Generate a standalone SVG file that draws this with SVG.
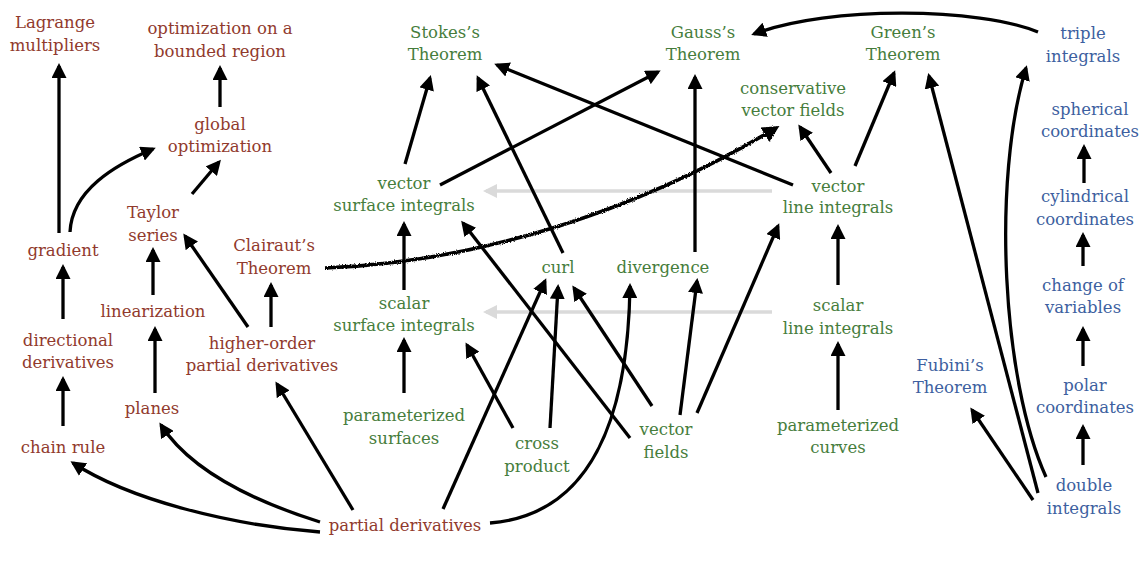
<svg xmlns="http://www.w3.org/2000/svg" width="1140" height="563" viewBox="0 0 1140 563">
<style>
text{font-family:"DejaVu Serif","Liberation Serif",serif;font-size:16.5px;text-anchor:middle}
.r{fill:#913a2d}.g{fill:#467d3c}.b{fill:#3d5fa0}
.e{fill:none;stroke:#000;stroke-width:3.3;marker-end:url(#ah)}
.gr{fill:none;stroke:#dadada;stroke-width:3.5;marker-end:url(#gh)}
.rough{fill:none;stroke:#000;stroke-width:3.6;marker-end:url(#rh)}
</style>
<defs>
<marker id="ah" markerUnits="userSpaceOnUse" markerWidth="15" markerHeight="15" viewBox="0 0 15 15" refX="12" refY="7.5" orient="auto"><path d="M0,0L15,7.5L0,15z" fill="#000"/></marker>
<marker id="gh" markerUnits="userSpaceOnUse" markerWidth="14" markerHeight="14" viewBox="0 0 14 14" refX="11" refY="7" orient="auto"><path d="M0,0L14,7L0,14z" fill="#dadada"/></marker>
<marker id="rh" markerUnits="userSpaceOnUse" markerWidth="17" markerHeight="17" viewBox="0 0 17 17" refX="13" refY="8.5" orient="auto"><path d="M0,0L17,8.5L0,17z" fill="#000"/></marker>
<filter id="rough" x="-5%" y="-20%" width="110%" height="140%"><feTurbulence type="fractalNoise" baseFrequency="0.9" numOctaves="2" result="n"/><feDisplacementMap in="SourceGraphic" in2="n" scale="3" xChannelSelector="R" yChannelSelector="G"/></filter>
</defs>
<rect width="1140" height="563" fill="#fff"/>
<g id="connectors">
<path class="gr" d="M772,312H486"/>
<path class="gr" d="M772,191H486"/>
<path class="e" d="M59,233V66"/>
<path class="e" d="M70,232C72,190 115,165 153,149"/>
<path class="e" d="M220,107V68"/>
<path class="e" d="M192,194L219,162"/>
<path class="e" d="M153,295V250"/>
<path class="e" d="M155,393V329"/>
<path class="e" d="M63,319V267"/>
<path class="e" d="M63,426V379"/>
<path class="e" d="M248,327L185,236"/>
<path class="e" d="M271,327V285"/>
<path class="e" d="M320,532C230,525 130,500 73,463"/>
<path class="e" d="M320,522C250,500 190,470 161,425"/>
<path class="e" d="M353,510L277,384"/>
<path class="e" d="M443,509L545,281"/>
<path class="e" d="M490,523C590,515 628,420 630,286"/>
<path class="e" d="M550,428L558,287"/>
<path class="e" d="M513,428L467,345"/>
<path class="e" d="M652,406L574,288"/>
<path class="e" d="M630,438L463,223"/>
<path class="e" d="M680,415L697,281"/>
<path class="e" d="M697,413L778,226"/>
<path class="e" d="M563,253L478,78"/>
<path class="e" d="M405,164L430,78"/>
<path class="e" d="M440,185L658,72"/>
<path class="e" d="M695,252V77"/>
<path class="e" d="M793,185L497,65"/>
<path class="e" d="M831,173L800,127"/>
<path class="e" d="M855,166L894,73"/>
<path class="e" d="M404,393V340"/>
<path class="e" d="M404,290V224"/>
<path class="e" d="M838,410V344"/>
<path class="e" d="M838,285V227"/>
<path class="e" d="M1033,500L972,410"/>
<path class="e" d="M1038,493L929,76"/>
<path class="e" d="M1046,477C1002,380 992,180 1026,68"/>
<path class="e" d="M1038,32C980,8 830,5 754,34"/>
<path class="e" d="M1083,366V329"/>
<path class="e" d="M1083,465V427"/>
<path class="e" d="M1084,183V147"/>
<path class="e" d="M1083,266V235"/>
<g filter="url(#rough)"><path class="rough" d="M325,268C480,262 640,210 776,128"/></g>
</g>
<g id="lagrange"><text class="r" x="55" y="28">Lagrange</text><text class="r" x="55" y="51">multipliers</text></g>
<g id="optbounded"><text class="r" x="220" y="34">optimization on a</text><text class="r" x="220" y="57">bounded region</text></g>
<g id="globalopt"><text class="r" x="220" y="130">global</text><text class="r" x="220" y="152">optimization</text></g>
<g id="taylor"><text class="r" x="153" y="218">Taylor</text><text class="r" x="153" y="241">series</text></g>
<g id="gradient"><text class="r" x="63" y="256">gradient</text></g>
<g id="clairaut"><text class="r" x="274" y="251">Clairaut’s</text><text class="r" x="274" y="274">Theorem</text></g>
<g id="linearization"><text class="r" x="153" y="317">linearization</text></g>
<g id="directional"><text class="r" x="68" y="346">directional</text><text class="r" x="68" y="368">derivatives</text></g>
<g id="higherorder"><text class="r" x="262" y="349">higher-order</text><text class="r" x="262" y="371">partial derivatives</text></g>
<g id="planes"><text class="r" x="152" y="414">planes</text></g>
<g id="chainrule"><text class="r" x="63" y="453">chain rule</text></g>
<g id="partialderiv"><text class="r" x="405" y="531">partial derivatives</text></g>
<g id="stokes"><text class="g" x="445" y="38">Stokes’s</text><text class="g" x="445" y="60">Theorem</text></g>
<g id="gauss"><text class="g" x="703" y="38">Gauss’s</text><text class="g" x="703" y="60">Theorem</text></g>
<g id="green"><text class="g" x="903" y="38">Green’s</text><text class="g" x="903" y="60">Theorem</text></g>
<g id="conservative"><text class="g" x="793" y="94">conservative</text><text class="g" x="793" y="116">vector fields</text></g>
<g id="vecsurf"><text class="g" x="404" y="189">vector</text><text class="g" x="404" y="211">surface integrals</text></g>
<g id="vecline"><text class="g" x="838" y="192">vector</text><text class="g" x="838" y="213">line integrals</text></g>
<g id="curl"><text class="g" x="558" y="273">curl</text></g>
<g id="divergence"><text class="g" x="663" y="273">divergence</text></g>
<g id="scasurf"><text class="g" x="404" y="309">scalar</text><text class="g" x="404" y="331">surface integrals</text></g>
<g id="scaline"><text class="g" x="838" y="311">scalar</text><text class="g" x="838" y="334">line integrals</text></g>
<g id="paramsurf"><text class="g" x="404" y="421">parameterized</text><text class="g" x="404" y="444">surfaces</text></g>
<g id="cross"><text class="g" x="537" y="449">cross</text><text class="g" x="537" y="472">product</text></g>
<g id="vecfields"><text class="g" x="666" y="435">vector</text><text class="g" x="666" y="458">fields</text></g>
<g id="paramcurves"><text class="g" x="838" y="431">parameterized</text><text class="g" x="838" y="453">curves</text></g>
<g id="triple"><text class="b" x="1083" y="39">triple</text><text class="b" x="1083" y="62">integrals</text></g>
<g id="spherical"><text class="b" x="1090" y="115">spherical</text><text class="b" x="1090" y="137">coordinates</text></g>
<g id="cylindrical"><text class="b" x="1085" y="202">cylindrical</text><text class="b" x="1085" y="225">coordinates</text></g>
<g id="changevar"><text class="b" x="1083" y="291">change of</text><text class="b" x="1083" y="313">variables</text></g>
<g id="fubini"><text class="b" x="950" y="371">Fubini’s</text><text class="b" x="950" y="393">Theorem</text></g>
<g id="polar"><text class="b" x="1085" y="391">polar</text><text class="b" x="1085" y="413">coordinates</text></g>
<g id="double"><text class="b" x="1084" y="491">double</text><text class="b" x="1084" y="514">integrals</text></g>
</svg>
